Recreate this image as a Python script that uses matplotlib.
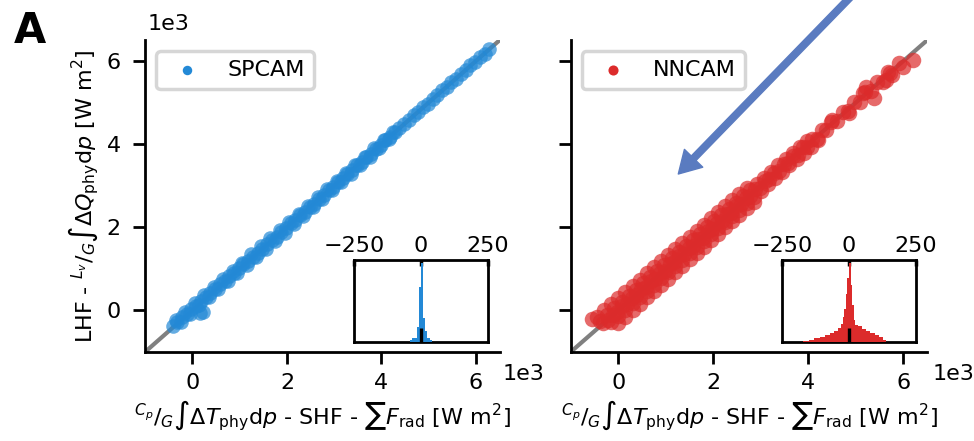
import matplotlib
matplotlib.use("Agg")
import matplotlib.pyplot as plt
from matplotlib.patches import FancyArrowPatch
from matplotlib.ticker import FuncFormatter

# --- data (W m-2) ---
LIMS = [-1000, 6500]
TICKS = [0, 2000, 4000, 6000]

# SPCAM scatter band
sp_mid_x = [-420, -320, -220, -120, -20, 80, 180, 280, 380, 480,
            580, 680, 780, 880, 980, 1080, 1180, 1280, 1380, 1480,
            1580, 1680, 1780, 1880, 1980, 2080, 2180, 2280, 2380, 2480,
            2580, 2680, 2780, 2880, 2980, 3080, 3180, 3280, 3380, 3480,
            3580, 3680, 3780, 3880, 3980, 4080, 4180, 4280, 4380, 4480,
            4580, 4680, 4780, 4880, 4980, 5080, 5180, 5280, 5380, 5480,
            5580, 5680, 5780, 5880, 5980, 6080, 6180, 6280]
sp_mid_y = [-370, -280, -170, -80, 30, 115, 230, 310, 425, 510,
            625, 715, 825, 910, 1020, 1110, 1190, 1275, 1390, 1470,
            1590, 1690, 1770, 1890, 1975, 2090, 2170, 2290, 2375, 2490,
            2570, 2690, 2775, 2890, 2970, 3090, 3175, 3285, 3370, 3490,
            3575, 3690, 3770, 3890, 3975, 4090, 4170, 4290, 4375, 4490,
            4570, 4690, 4775, 4890, 4970, 5090, 5175, 5290, 5370, 5490,
            5575, 5690, 5770, 5890, 5975, 6090, 6170, 6290]
sp_hi_x = [-350, -150, 50, 250, 450, 650, 850, 1050, 1250, 1450,
           1650, 1850, 2050, 2250, 2450, 2650, 2850, 3050, 3250, 3450,
           3650, 3850, 4050, 4250]
sp_hi_y = [-230, -30, 170, 365, 565, 760, 955, 1150, 1345, 1540,
           1730, 1930, 2125, 2325, 2520, 2720, 2915, 3110, 3310, 3505,
           3700, 3895, 4095, 4290]
sp_lo_x = [-250, -50, 150, 350, 550, 750, 950, 1150, 1350, 1550,
           1750, 1950, 2150, 2350, 2550, 2750, 2950, 3150, 3350, 3550,
           3750, 3950, 4150]
sp_lo_y = [-280, -80, 120, 315, 510, 705, 900, 1095, 1290, 1485,
           1670, 1870, 2075, 2275, 2480, 2680, 2885, 3090, 3290, 3495,
           3700, 3905, 4110]
sp_extra_x = [170, 230]
sp_extra_y = [-60, -30]

# NNCAM scatter band
nn_mid_x = [-320, -220, -120, -20, 80, 180, 280, 380, 480,
            580, 680, 780, 880, 980, 1080, 1180, 1280, 1380, 1480,
            1580, 1680, 1780, 1880, 1980, 2080, 2180, 2280, 2380, 2480,
            2580, 2680, 2780, 2880, 2980, 3080, 3180, 3280, 3380, 3480,
            3580, 3680, 3780, 3880, 3980, 4080, 4180, 4280, 4380, 4480,
            4600, 4720, 4840, 4960, 5080, 5200, 5320, 5440, 5560, 5680]
nn_mid_y = [-300, -240, -100, -40, 110, 160, 300, 360, 510,
            560, 710, 760, 910, 950, 1110, 1160, 1310, 1350, 1510,
            1550, 1710, 1750, 1910, 1950, 2110, 2150, 2310, 2350, 2510,
            2550, 2710, 2750, 2910, 2950, 3110, 3150, 3310, 3350, 3510,
            3540, 3720, 3740, 3920, 3940, 4120, 4130, 4330, 4330, 4540,
            4560, 4780, 4790, 5020, 5020, 5250, 5270, 5500, 5500, 5740]
nn_hi1_x = [-380, -230, -80, 70, 220, 370, 520, 670, 820, 970,
            1120, 1270, 1420, 1570, 1720, 1870, 2020, 2170, 2320, 2470,
            2620, 2770, 2920, 3070, 3220, 3370, 3520, 3670, 3820, 3970]
nn_hi1_y = [-250, -100, 50, 200, 350, 500, 650, 800, 950, 1100,
            1250, 1400, 1550, 1695, 1845, 1995, 2145, 2295, 2445, 2590,
            2740, 2890, 3040, 3185, 3335, 3485, 3630, 3780, 3930, 4080]
nn_lo1_x = [-150, 0, 150, 300, 450, 600, 750, 900, 1050, 1200,
            1350, 1500, 1650, 1800, 1950, 2100, 2250, 2400, 2550, 2700,
            2850, 3000, 3150, 3300, 3450, 3600, 3750, 3900, 4050, 4200]
nn_lo1_y = [-280, -130, 20, 170, 320, 470, 620, 770, 920, 1070,
            1220, 1370, 1520, 1670, 1825, 1975, 2125, 2275, 2425, 2575,
            2730, 2880, 3030, 3180, 3330, 3485, 3635, 3785, 3935, 4090]
nn_hi2_x = [-450, -300, -150, 0, 150, 300, 450, 600, 750, 900,
            1050, 1200, 1350, 1500, 1650, 1800, 1950, 2100, 2250, 2400,
            2550, 2700]
nn_hi2_y = [-150, 0, 150, 300, 445, 595, 740, 890, 1035, 1185,
            1330, 1480, 1625, 1775, 1920, 2065, 2210, 2355, 2500, 2645,
            2790, 2940]
nn_lo2_x = [0, 150, 300, 450, 600, 750, 900, 1050, 1200, 1350,
            1500, 1650, 1800, 1950, 2100, 2250, 2400, 2550, 2700, 2850]
nn_lo2_y = [-300, -150, 5, 155, 310, 460, 615, 765, 920, 1070,
            1225, 1375, 1530, 1685, 1840, 1995, 2150, 2305, 2460, 2610]
nn_out_x = [-550, 6190, 5140, 5220, 5390, 5640, 5710, 5750, 4860, 4500, 5900, 6000]
nn_out_y = [-220, 6020, 5230, 5370, 5110, 5540, 5710, 5660, 4750, 4580, 5950, 5850]

# inset histograms of the residual (relative height)
sp_hist_edges = [-40, -32, -24, -16, -8, 0, 8, 16, 24, 32, 40]
sp_hist_vals = [0.02, 0.05, 0.05, 0.18, 0.67, 0.96, 0.29, 0.14, 0.05, 0.02]
nn_hist_edges = [-170, -150, -130, -110, -90, -70, -55, -40, -30, -24, -18, -12, -6,
                 0, 6, 12, 18, 24, 35, 50, 65, 80, 95, 110, 125, 138]
nn_hist_vals = [0.01, 0.03, 0.045, 0.065, 0.085, 0.11, 0.13, 0.17, 0.22, 0.30, 0.40,
                0.58, 0.78, 0.96, 0.70, 0.45, 0.27, 0.21, 0.19, 0.16, 0.14, 0.11,
                0.09, 0.06, 0.03]
MEDIAN_MARK = 0.17

BLUE = "#2389d6"
RED = "#dc2b2b"

XLABEL = r"$^{C_p}/_{G}\int\Delta T_{\rm phy}{\rm d}p$ - SHF - $\sum F_{\rm rad}$ [W m$^2$]"
YLABEL = r"LHF - $^{L_v}/_{G}\int\Delta Q_{\rm phy}{\rm d}p$ [W m$^2$]"

fig = plt.figure(figsize=(9.74, 4.41), dpi=100)
ax1 = fig.add_axes([0.149, 0.202, 0.364, 0.707])
ax2 = fig.add_axes([0.586, 0.202, 0.366, 0.707])

panels = [
    (ax1, "SPCAM", BLUE, 110,
     sp_mid_x + sp_hi_x + sp_lo_x + sp_extra_x,
     sp_mid_y + sp_hi_y + sp_lo_y + sp_extra_y,
     sp_hist_edges, sp_hist_vals, 0.3634),
    (ax2, "NNCAM", RED, 125,
     nn_mid_x + nn_hi1_x + nn_lo1_x + nn_hi2_x + nn_lo2_x + nn_out_x,
     nn_mid_y + nn_hi1_y + nn_lo1_y + nn_hi2_y + nn_lo2_y + nn_out_y,
     nn_hist_edges, nn_hist_vals, 0.8029),
]

thousands = FuncFormatter(lambda v, p: f"{v / 1000:g}")

for ax, name, col, size, xs, ys, edges, vals, inset_left in panels:
    ax.plot(LIMS, LIMS, color="#808080", lw=3, zorder=1)
    ax.scatter(xs, ys, s=size, color=col, alpha=0.7, linewidths=0, zorder=2, label=name)
    ax.set_xlim(LIMS)
    ax.set_ylim(LIMS)
    ax.set_xticks(TICKS)
    ax.set_yticks(TICKS)
    ax.xaxis.set_major_formatter(thousands)
    ax.yaxis.set_major_formatter(thousands)
    for side in ["top", "right"]:
        ax.spines[side].set_visible(False)
    for side in ["left", "bottom"]:
        ax.spines[side].set_linewidth(2)
    ax.tick_params(length=8.5, width=2, labelsize=16)
    ax.tick_params(axis="x", pad=7)
    ax.tick_params(axis="y", pad=9)
    ax.set_xlabel(XLABEL, fontsize=16)

    leg = ax.legend(loc="upper left", fontsize=16, edgecolor="#cccccc", markerscale=0.65)
    leg.get_frame().set_linewidth(2.5)
    for h in leg.legend_handles:
        h.set_alpha(1)

    # residual histogram inset
    ins = fig.add_axes([inset_left, 0.2245, 0.1376, 0.186])
    ins.stairs(vals, edges, fill=True, color=col, zorder=3)
    ins.plot([0, 0], [0, MEDIAN_MARK], color="k", lw=2.4, solid_capstyle="butt", zorder=4)
    ins.set_xlim(-250, 250)
    ins.set_ylim(0, 1)
    ins.set_xticks([-250, 0, 250])
    ins.set_yticks([])
    ins.xaxis.tick_top()
    ins.tick_params(direction="in", length=4, width=2.5, labelsize=16, pad=3)
    for sp in ins.spines.values():
        sp.set_linewidth(2)

ax1.set_ylabel(YLABEL, fontsize=16)
ax2.tick_params(axis="y", labelleft=False)

# offset labels and panel letter
fig.text(0.151, 0.932, "1e3", fontsize=16, va="baseline")
fig.text(0.516, 0.138, "1e3", fontsize=16, va="baseline")
fig.text(0.957, 0.138, "1e3", fontsize=16, va="baseline")
fig.text(0.014, 0.9025, "A", fontsize=30, fontweight="bold", va="baseline")

arrow = FancyArrowPatch((0.890, 1.045), (0.6964, 0.6054), transform=fig.transFigure,
                        arrowstyle="simple,head_length=15.8,head_width=18.4,tail_width=4.7",
                        color="#5a7bc0", shrinkA=0, shrinkB=0, zorder=5)
fig.add_artist(arrow)

fig.savefig("out.png", dpi=100)
